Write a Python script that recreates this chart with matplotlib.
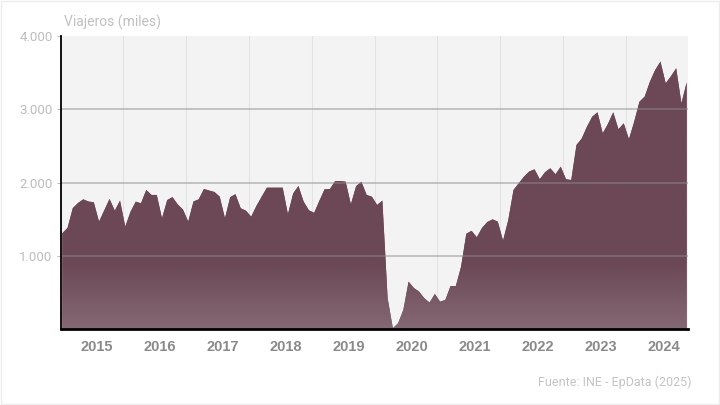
import numpy as np
import matplotlib.pyplot as plt
from matplotlib.patches import Polygon, Rectangle
from matplotlib.colors import LinearSegmentedColormap

# viajeros mensuales (miles), enero 2015 - diciembre 2024
viajeros = [
    1307, 1380, 1650, 1720, 1770, 1740, 1730, 1465, 1620, 1775, 1615, 1752,  # 2015
    1397, 1600, 1738, 1716, 1898, 1830, 1830, 1511, 1760, 1800, 1700, 1630,  # 2016
    1465, 1740, 1770, 1911, 1890, 1870, 1806, 1511, 1800, 1840, 1648, 1615,  # 2017
    1533, 1680, 1806, 1929, 1929, 1929, 1929, 1566, 1850, 1952, 1738, 1620,  # 2018
    1585, 1750, 1907, 1910, 2020, 2020, 2011, 1702, 1950, 2010, 1830, 1806,  # 2019
    1693, 1752, 420, 10, 78, 260, 646, 560, 510, 420, 360, 478,              # 2020
    373, 396, 587, 587, 850, 1300, 1340, 1252, 1380, 1460, 1497, 1465,       # 2021
    1205, 1488, 1898, 1990, 2080, 2150, 2180, 2044, 2140, 2194, 2112, 2216,  # 2022
    2044, 2034, 2512, 2600, 2762, 2898, 2958, 2672, 2800, 2958, 2726, 2808,  # 2023
    2590, 2830, 3103, 3172, 3377, 3536, 3650, 3354, 3450, 3559, 3081, 3368,  # 2024
]
years = ["2015", "2016", "2017", "2018", "2019", "2020", "2021", "2022", "2023", "2024"]
y_ticks = [1000, 2000, 3000, 4000]
y_labels = ["1.000", "2.000", "3.000", "4.000"]

dark = "#6c4856"
light = "#846873"

fig = plt.figure(figsize=(7.2, 4.05), dpi=100)
ax = fig.add_axes([61 / 720, 76 / 405, 627 / 720, 293 / 405])
ax.set_facecolor("#f3f3f3")

x = np.arange(len(viajeros))
xmin, xmax = -0.25, len(viajeros) - 1 + 0.25

# vertical grid behind the area
for k in range(1, len(years)):
    ax.axvline(11.5 + 12 * (k - 1), color="#e3e3e3", lw=0.8, zorder=0)

# area with vertical gradient (lighter only near the base)
pts = np.column_stack([np.r_[x[0], x, x[-1]], np.r_[0, viajeros, 0]])
poly = Polygon(pts, closed=True, facecolor=dark, edgecolor="none", zorder=1)
ax.add_patch(poly)
cmap = LinearSegmentedColormap.from_list("g", [(0, light), (0.22, dark), (1, dark)])
grad = np.linspace(0, 1, 256).reshape(-1, 1)
img = ax.imshow(grad, extent=[xmin, xmax, 0, 4000], aspect="auto", origin="lower",
                cmap=cmap, zorder=2, interpolation="bilinear")
img.set_clip_path(poly)

# horizontal grid on top
for yv in y_ticks[:-1]:
    ax.axhline(yv, color="#8c8c8c", alpha=0.55, lw=1.2, zorder=3)

ax.set_xlim(xmin, xmax)
ax.set_ylim(0, 4000)

ax.set_yticks(y_ticks)
ax.set_yticklabels(y_labels, family="Roboto", fontsize=9.5, color="#bdbdbd")
ax.tick_params(axis="y", length=3, width=0.8, color="#bdbdbd", pad=3)

ax.set_xticks([6.6 + 12 * k for k in range(len(years))])
ax.set_xticklabels(years, family="Liberation Sans", fontweight="bold",
                   fontsize=10.5, color="#8a8a8a")
ax.tick_params(axis="x", length=0, pad=8)

for s in ["top", "right"]:
    ax.spines[s].set_visible(False)
ax.spines["left"].set_color("black")
ax.spines["left"].set_linewidth(1.3)
ax.spines["bottom"].set_color("black")
ax.spines["bottom"].set_linewidth(2)
ax.spines["left"].set_zorder(5)
ax.spines["bottom"].set_zorder(5)

fig.text(64 / 720, 1 - 22 / 405, "Viajeros (miles)", family="Roboto", fontsize=10,
         color="#c0c0c0", va="center", ha="left")
fig.text(692 / 720, 1 - 382 / 405, "Fuente: INE - EpData (2025)", family="Roboto",
         fontsize=9, color="#c4c4c4", va="center", ha="right")

fig.patches.append(Rectangle((0.001, 0.002), 0.998, 0.996, transform=fig.transFigure,
                             fill=False, ec="#ededed", lw=1))

fig.savefig("out.png", dpi=100, facecolor="white")
